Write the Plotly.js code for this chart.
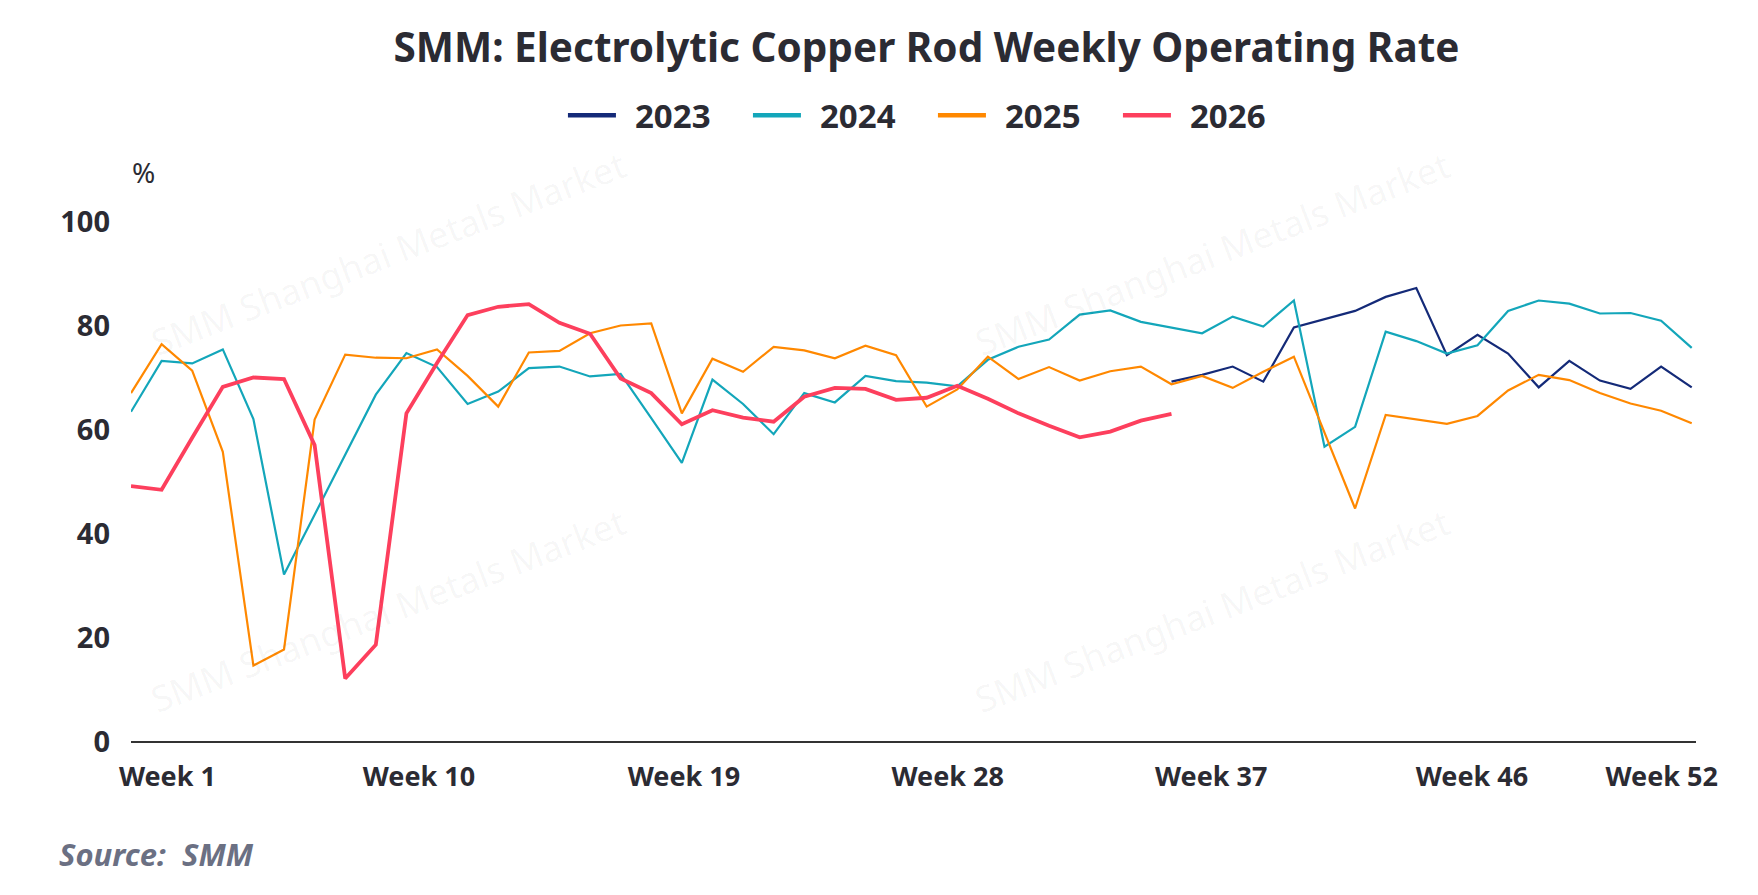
<!DOCTYPE html>
<html>
<head>
<meta charset="utf-8">
<script src="https://cdn.plot.ly/plotly-3.0.1.min.js"></script>
<style>
  html, body { margin: 0; padding: 0; background: #fff; }
  #chart { width: 1758px; height: 895px; }
</style>
</head>
<body>
<div id="chart"></div>
<script>
const weeks = Array.from({ length: 52 }, (_, i) => i + 1);
const tickLabels = ['Week 1', 'Week 10', 'Week 19', 'Week 28', 'Week 37', 'Week 46', 'Week 52'];
const years = ['2023', '2024', '2025', '2026'];

// 2023 only has data from week 35 on
const rate2023 = [
  null, null, null, null, null, null, null, null, null, null,
  null, null, null, null, null, null, null, null, null, null,
  null, null, null, null, null, null, null, null, null, null,
  null, null, null, null, 69.3, 70.6, 72.2, 69.3, 79.7, 81.3,
  82.9, 85.6, 87.3, 74.4, 78.3, 74.7, 68.2, 73.3, 69.5, 67.9,
  72.2, 68.2
];
const rate2024 = [
  63.5, 73.3, 72.8, 75.5, 62.1, 32.2, 43.7, 55.2, 66.8, 74.8,
  72.1, 65.0, 67.4, 71.9, 72.2, 70.3, 70.8, 62.3, 53.7, 69.7,
  65.0, 59.2, 67.1, 65.3, 70.4, 69.4, 69.1, 68.4, 73.5, 76.0,
  77.4, 82.2, 83.0, 80.8, 79.7, 78.6, 81.8, 79.9, 84.9, 56.8,
  60.6, 78.9, 77.1, 74.7, 76.3, 82.9, 84.9, 84.3, 82.4, 82.5,
  81.0, 75.8
];
const rate2025 = [
  67.1, 76.5, 71.4, 55.8, 14.7, 17.8, 62.0, 74.5, 73.9, 73.8,
  75.5, 70.4, 64.5, 74.9, 75.2, 78.6, 80.1, 80.5, 63.2, 73.7,
  71.2, 76.0, 75.3, 73.8, 76.2, 74.4, 64.5, 67.8, 74.1, 69.8,
  72.1, 69.5, 71.3, 72.2, 68.8, 70.4, 68.1, 71.2, 74.1, 59.5,
  44.9, 62.9, 62.1, 61.2, 62.7, 67.6, 70.6, 69.6, 67.1, 65.1,
  63.7, 61.3
];
const rate2026 = [
  49.2, 48.5, 58.5, 68.3, 70.1, 69.8, 57.1, 12.2, 18.7, 63.2,
  72.9, 82.1, 83.7, 84.2, 80.6, 78.5, 69.9, 67.1, 61.1, 63.8,
  62.4, 61.6, 66.4, 68.1, 67.9, 65.8, 66.2, 68.5, 66.0, 63.2,
  60.8, 58.6, 59.7, 61.8, 63.1
];

const font = '"Noto Sans", "Open Sans", sans-serif';
const textColor = '#2b2b33';
const colors = ['#142a78', '#13a6ba', '#ff8800', '#fd3f5d'];
const widths = [2.2, 2.2, 2.2, 3.8];
const series = [rate2023, rate2024, rate2025, rate2026];

// the source chart spaces its week labels a little tighter than the weeks themselves
const labelPos = [2.19, 10.41, 19.07, 27.69, 36.30, 44.82, 51.02];

var data = series.map((s, i) => ({
  name: years[i],
  x: weeks.slice(0, s.length),
  y: s,
  mode: 'lines',
  showlegend: false,
  line: { color: colors[i], width: widths[i] },
}));
// legend entries with thicker swatches, a small gap before the text
years.forEach((y, i) => data.push({
  name: '\u00a0\u2009' + y, x: [null], y: [null], mode: 'lines',
  line: { color: colors[i], width: 4.5 },
}));

// faint watermark text
const wm = 'SMM Shanghai Metals Market';
const marks = [[0.164, 0.94], [0.691, 0.94], [0.164, 0.252], [0.691, 0.252]].map(p => ({
  xref: 'paper', yref: 'paper', x: p[0], y: p[1],
  xanchor: 'center', yanchor: 'middle',
  text: wm, showarrow: false, textangle: -21,
  font: { family: font, size: 36, color: 'rgba(0,0,0,0.045)' },
}));

var layout = {
  width: 1758,
  height: 895,
  autosize: false,
  hovermode: false,
  paper_bgcolor: '#ffffff',
  plot_bgcolor: '#ffffff',
  font: { family: font, color: textColor },
  margin: { l: 131, r: 62, t: 222, b: 153 },
  title: {
    text: 'SMM: Electrolytic Copper Rod Weekly Operating Rate',
    font: { family: font, size: 40.5, weight: 'bold', color: textColor },
    x: 0.527, xanchor: 'center',
    y: 0.947, yanchor: 'middle',
  },
  showlegend: true,
  legend: {
    orientation: 'h',
    x: 0.276, xanchor: 'left',
    y: 1.205, yanchor: 'middle',
    font: { family: font, size: 33, weight: 'bold', color: textColor },
    itemwidth: 48,
    entrywidth: 122,
    entrywidthmode: 'pixels',
  },
  xaxis: {
    range: [1, 52.14],
    tickvals: labelPos,
    ticktext: tickLabels,
    showgrid: false,
    zeroline: false,
    showline: false,
    ticks: '',
    ticklabelstandoff: 16,
    tickfont: { family: font, size: 27, weight: 'bold', color: textColor },
    fixedrange: true,
  },
  yaxis: {
    range: [0, 100],
    tickvals: [0, 20, 40, 60, 80, 100],
    showgrid: false,
    zeroline: true,
    zerolinecolor: '#333333',
    zerolinewidth: 2,
    showline: false,
    ticks: '',
    ticklabelstandoff: 20,
    tickfont: { family: font, size: 29, weight: 'bold', color: textColor },
    fixedrange: true,
  },
  annotations: marks.concat([{
    xref: 'paper', yref: 'paper', x: 0.008, y: 1.097,
    xanchor: 'center', yanchor: 'middle',
    text: '%', showarrow: false,
    font: { family: font, size: 28, color: textColor },
  }, {
    xref: 'paper', yref: 'paper', x: -0.047, y: -0.215,
    xanchor: 'left', yanchor: 'middle',
    text: '<i>Source:  SMM</i>', showarrow: false,
    font: { family: font, size: 31, weight: 'bold', color: '#6b7083' },
  }]),
};

Plotly.newPlot('chart', data, layout, { displayModeBar: false, staticPlot: true });
</script>
</body>
</html>
